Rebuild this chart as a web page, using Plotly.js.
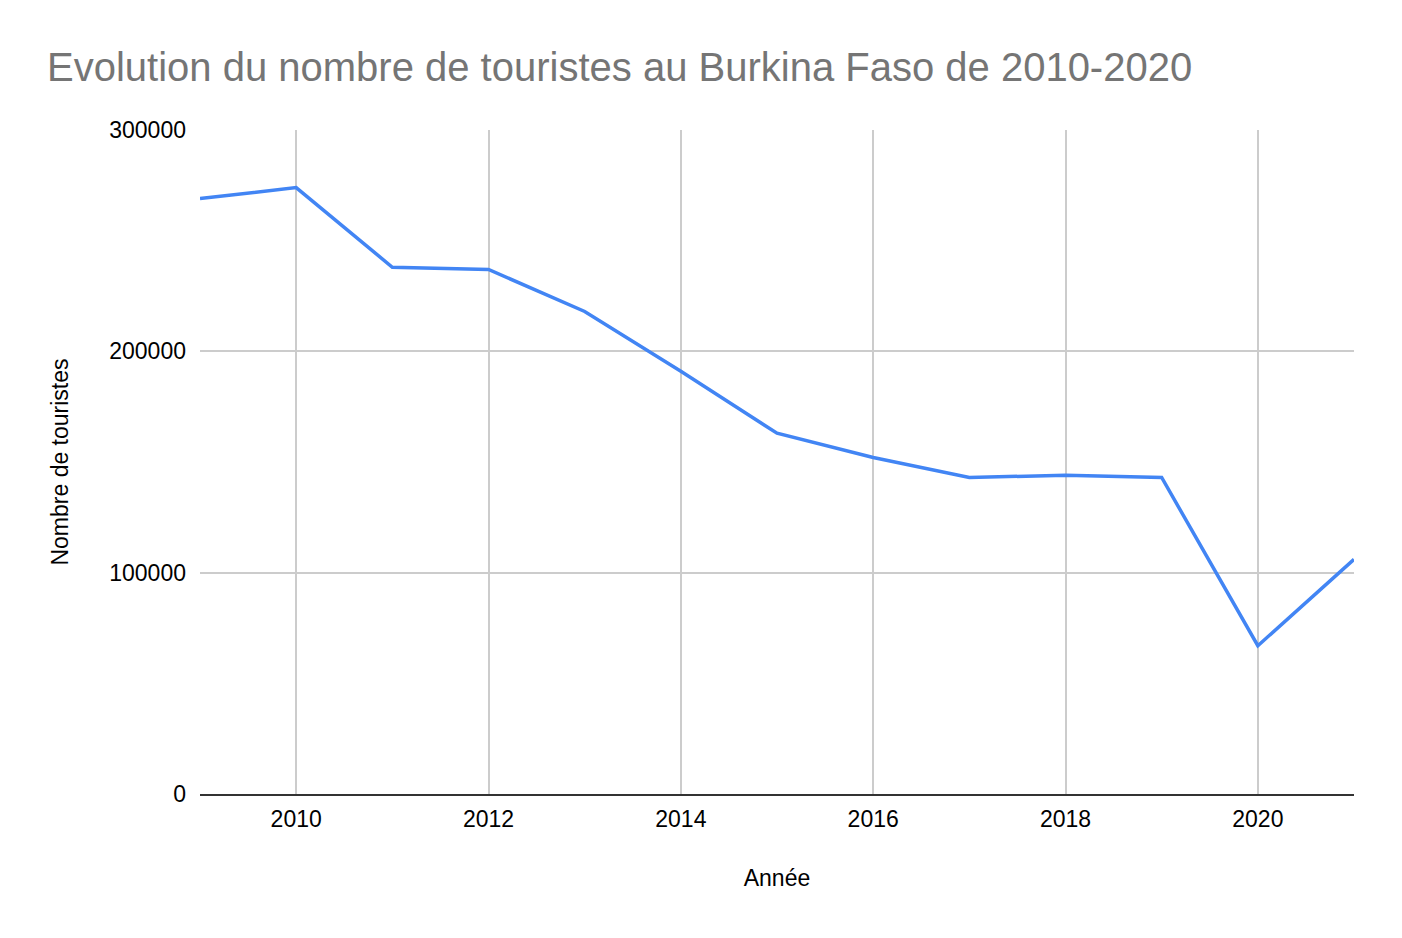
<!DOCTYPE html>
<html>
<head>
<meta charset="utf-8">
<script src="https://cdn.plot.ly/plotly-3.0.1.min.js"></script>
<style>html,body{margin:0;padding:0;background:#fff;}#chart{width:1402px;height:938px;}</style>
</head>
<body>
<div id="chart"></div>
<script>
const years = [2009, 2010, 2011, 2012, 2013, 2014, 2015, 2016, 2017, 2018, 2019, 2020, 2021];
const tourists = [269000, 274000, 238000, 237000, 218000, 191000, 163000, 152000, 143000, 144000, 143000, 67000, 106000];
const chartTitle = "Evolution du nombre de touristes au Burkina Faso de 2010-2020";
const xTitle = "Année";
const yTitle = "Nombre de touristes";

const font = "Arial, 'Liberation Sans', sans-serif";

Plotly.newPlot('chart', [{
  x: years,
  y: tourists,
  type: 'scatter',
  mode: 'lines',
  line: {color: '#4285F4', width: 3.5},
  hoverinfo: 'x+y'
}], {
  width: 1402,
  height: 938,
  paper_bgcolor: '#ffffff',
  plot_bgcolor: '#ffffff',
  margin: {l: 200, r: 48, t: 130, b: 144},
  showlegend: false,
  font: {family: font, color: '#000000', size: 23},
  title: {
    text: chartTitle,
    font: {family: font, size: 40, color: '#757575'},
    x: 47 / 1402,
    xanchor: 'left',
    xref: 'container',
    y: 1 - 67 / 938,
    yanchor: 'middle',
    yref: 'container'
  },
  xaxis: {
    range: [2009, 2021],
    tick0: 2010,
    dtick: 2,
    showgrid: true,
    gridcolor: '#cccccc',
    gridwidth: 2,
    zeroline: false,
    showline: true,
    linecolor: '#333333',
    linewidth: 2,
    ticks: '',
    ticklabelstandoff: 3,
    tickfont: {family: font, size: 23, color: '#000000'},
    title: {text: xTitle, font: {family: font, size: 23, color: '#000000'}, standoff: 39}
  },
  yaxis: {
    range: [0, 300000],
    dtick: 100000,
    tickformat: 'd',
    showgrid: true,
    gridcolor: '#cccccc',
    gridwidth: 2,
    zeroline: false,
    showline: false,
    ticks: '',
    ticklabelstandoff: 13,
    tickfont: {family: font, size: 23, color: '#000000'},
    title: {text: yTitle, font: {family: font, size: 23, color: '#000000'}, standoff: 34}
  }
}, {displayModeBar: false, staticPlot: true});
</script>
</body>
</html>
